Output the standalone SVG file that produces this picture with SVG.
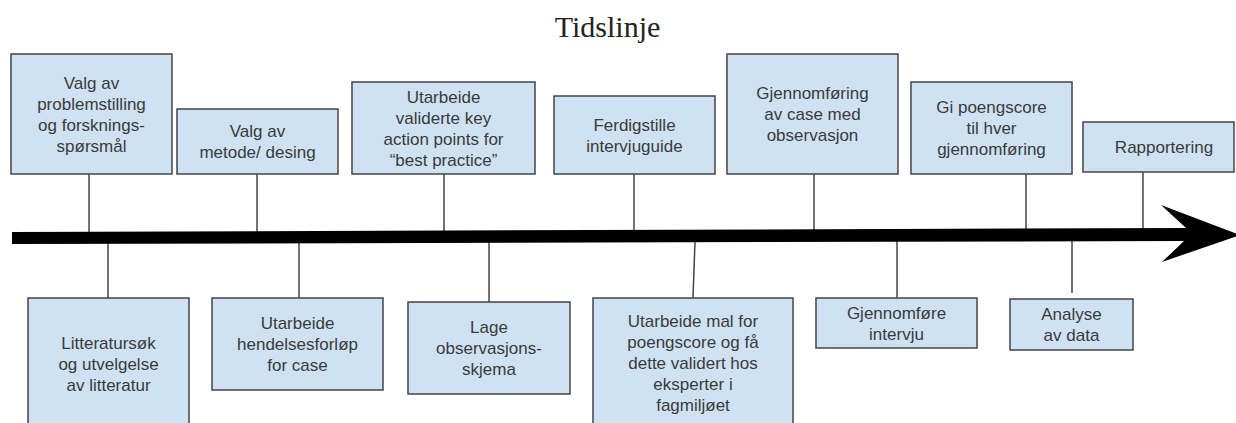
<svg xmlns="http://www.w3.org/2000/svg" width="1236" height="423" viewBox="0 0 1236 423">
<style>
.box{fill:#cfe2f3;stroke:#444;stroke-width:1.5}
.t{font-family:"Liberation Sans",Arial,sans-serif;font-size:17px;fill:#3a3a3a;text-anchor:middle}
.c{stroke:#444;stroke-width:1.5;fill:none}
.title{font-family:"Liberation Serif","Times New Roman",serif;font-size:30px;fill:#222;text-anchor:middle}
</style>
<rect width="1236" height="423" fill="#fff"/>
<text class="title" x="607.5" y="37">Tidslinje</text>
<g id="connectors">
<line class="c" x1="89" y1="174" x2="89" y2="233"/>
<line class="c" x1="257" y1="174" x2="257" y2="232"/>
<line class="c" x1="444" y1="174" x2="444" y2="232"/>
<line class="c" x1="634" y1="174" x2="634" y2="231"/>
<line class="c" x1="814" y1="174" x2="814" y2="230"/>
<line class="c" x1="1026" y1="174" x2="1026" y2="229"/>
<line class="c" x1="1143" y1="172" x2="1143" y2="229"/>
<line class="c" x1="108" y1="243" x2="108" y2="298"/>
<line class="c" x1="299" y1="243" x2="299" y2="298"/>
<line class="c" x1="489" y1="242" x2="489" y2="302"/>
<line class="c" x1="695" y1="241" x2="693" y2="298"/>
<line class="c" x1="897" y1="240" x2="897" y2="298"/>
<line class="c" x1="1072" y1="240" x2="1072" y2="293"/>
</g>
<g id="timeline">
<polygon fill="#000" points="12,232 1186,228 1161,205 1240,235 1162,262 1184,241 12,244"/>
</g>
<g id="n1"><rect class="box" x="11" y="54" width="161" height="120"/>
<text class="t" x="91.5"><tspan x="91.5" y="88.5">Valg av</tspan><tspan x="91.5" y="109.5">problemstilling</tspan><tspan x="91.5" y="130.5">og forsknings-</tspan><tspan x="91.5" y="151.5">spørsmål</tspan></text></g>
<g id="n2"><rect class="box" x="177" y="109" width="161" height="65"/>
<text class="t"><tspan x="257.5" y="137">Valg av</tspan><tspan x="257.5" y="158">metode/ desing</tspan></text></g>
<g id="n3"><rect class="box" x="352" y="82" width="183" height="92"/>
<text class="t"><tspan x="443.5" y="102.5">Utarbeide</tspan><tspan x="443.5" y="123.5">validerte key</tspan><tspan x="443.5" y="144.5">action points for</tspan><tspan x="443.5" y="165.5">“best practice”</tspan></text></g>
<g id="n4"><rect class="box" x="554" y="96" width="161" height="78"/>
<text class="t"><tspan x="634.5" y="130.5">Ferdigstille</tspan><tspan x="634.5" y="151.5">intervjuguide</tspan></text></g>
<g id="n5"><rect class="box" x="727" y="54" width="171" height="120"/>
<text class="t"><tspan x="812.5" y="99">Gjennomføring</tspan><tspan x="812.5" y="120">av case med</tspan><tspan x="812.5" y="141">observasjon</tspan></text></g>
<g id="n6"><rect class="box" x="911" y="82" width="161" height="92"/>
<text class="t"><tspan x="991.5" y="113">Gi poengscore</tspan><tspan x="991.5" y="134">til hver</tspan><tspan x="991.5" y="155">gjennomføring</tspan></text></g>
<g id="n7"><rect class="box" x="1083" y="122" width="151" height="50"/>
<text class="t" x="1164" y="153">Rapportering</text></g>
<g id="n8"><rect class="box" x="28" y="298" width="161" height="132"/>
<text class="t"><tspan x="108.5" y="349">Litteratursøk</tspan><tspan x="108.5" y="370">og utvelgelse</tspan><tspan x="108.5" y="391">av litteratur</tspan></text></g>
<g id="n9"><rect class="box" x="212" y="298" width="171" height="92"/>
<text class="t"><tspan x="297.5" y="329">Utarbeide</tspan><tspan x="297.5" y="350">hendelsesforløp</tspan><tspan x="297.5" y="371">for case</tspan></text></g>
<g id="n10"><rect class="box" x="408" y="302" width="162" height="92"/>
<text class="t"><tspan x="489" y="333">Lage</tspan><tspan x="489" y="354">observasjons-</tspan><tspan x="489" y="375">skjema</tspan></text></g>
<g id="n11"><rect class="box" x="593" y="298" width="200" height="130"/>
<text class="t"><tspan x="693" y="327">Utarbeide mal for</tspan><tspan x="693" y="348">poengscore og få</tspan><tspan x="693" y="369">dette validert hos</tspan><tspan x="693" y="390">eksperter i</tspan><tspan x="693" y="411">fagmiljøet</tspan></text></g>
<g id="n12"><rect class="box" x="816" y="298" width="161" height="50"/>
<text class="t"><tspan x="896.5" y="318.5">Gjennomføre</tspan><tspan x="896.5" y="339.5">intervju</tspan></text></g>
<g id="n13"><rect class="box" x="1010" y="299" width="123" height="51"/>
<text class="t"><tspan x="1071.5" y="320">Analyse</tspan><tspan x="1071.5" y="341">av data</tspan></text></g>
</svg>
